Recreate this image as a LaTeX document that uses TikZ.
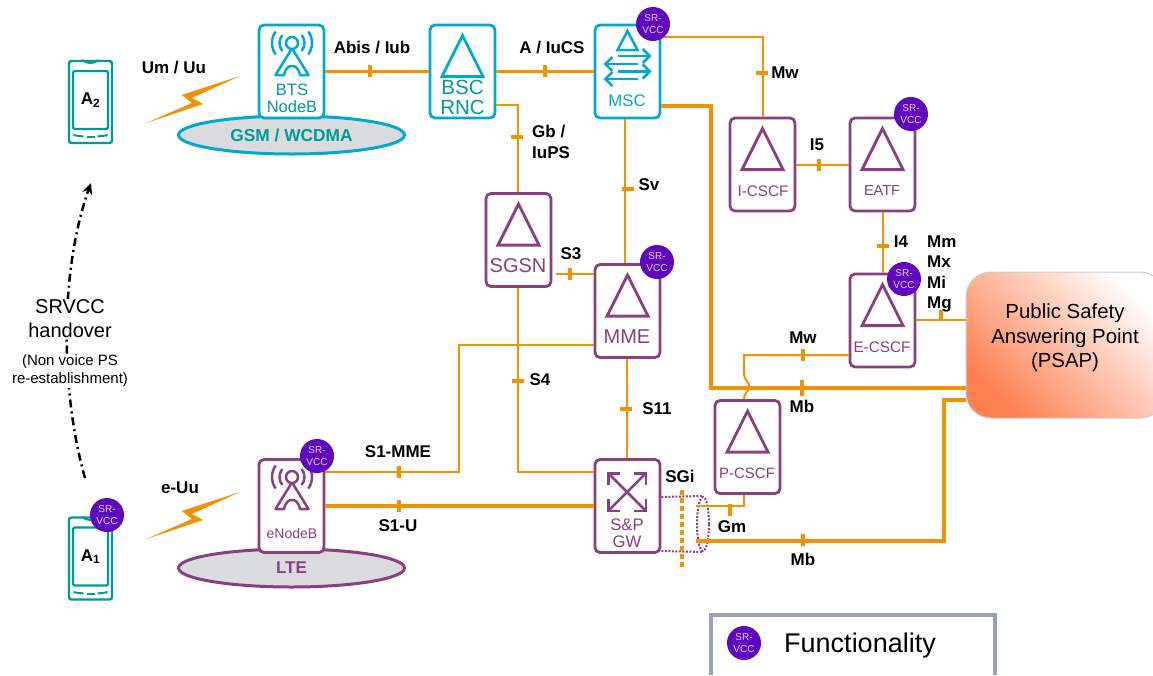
\documentclass[tikz,border=0pt]{standalone}
\usepackage{fontspec}
\setmainfont{Liberation Sans}
\usepackage[HTML]{xcolor}
\usetikzlibrary{positioning, arrows.meta, shapes.geometric}
\definecolor{netblue}{HTML}{00A9CE}
\definecolor{netteal}{HTML}{009A9A}
\definecolor{netpurple}{HTML}{8A3F82}
\definecolor{linkorange}{HTML}{F39200}
\definecolor{badgeviolet}{HTML}{5F06BE}
\definecolor{badgetext}{HTML}{DCCBF5}
\definecolor{legendgrey}{HTML}{98A2BC}
\definecolor{psapcoral}{HTML}{FF8050}
\definecolor{cellgrey}{HTML}{D9DBDC}
\newcommand{\fs}[1]{\fontsize{#1}{#1}\selectfont}
\tikzset{
  netbox/.style={draw=#1, line width=2.8pt, rounded corners=5pt, fill=white, minimum width=65pt, minimum height=93pt, inner sep=0pt},
  netname/.style={text=netpurple, inner sep=0pt, align=center},
  ifname/.style={font=\fs{17}\bfseries, inner sep=0pt, align=left},
  thinlink/.style={draw=linkorange, line width=2pt},
  thicklink/.style={draw=linkorange, line width=3.5pt},
  vtick/.style={fill=linkorange, inner sep=0pt, minimum width=3.5pt, minimum height=12pt},
  htick/.style={fill=linkorange, inner sep=0pt, minimum width=12pt, minimum height=3.5pt},
  srvcc/.style={circle, fill=badgeviolet, text=badgetext, minimum size=34pt, inner sep=0pt, align=center, font=\fontsize{10}{12}\selectfont},
  cell/.style={ellipse, line width=3pt, draw=#1, fill=cellgrey, minimum width=226pt, minimum height=38pt, inner sep=0pt},
  phonebody/.style={draw=netteal, line width=2.4pt, rounded corners=2.5pt, minimum width=43pt, minimum height=82pt, inner sep=0pt},
  phonescreen/.style={draw=netteal, line width=2.4pt, rounded corners=1.5pt, minimum width=35pt, minimum height=58pt, inner sep=0pt, font=\fs{17}\bfseries},
  tube/.style={draw=netpurple, line width=2pt, dash pattern=on 2pt off 1.5pt},
  tri/.pic={\draw[line width=2.8pt, line join=miter] (0,0) -- (-20.5,41) -- (20.5,41) -- cycle;},
  bolt/.pic={\fill[linkorange] (0,0) -- (-48,22) -- (-37,28) -- (-95,47.5) -- (-48,27) -- (-58.5,19) -- cycle;},
  antenna/.pic={
    \draw[line width=2.5pt] (0,0) circle (6);
    \draw[line width=2.5pt] (140:12.5) arc[start angle=140, end angle=220, radius=12.5];
    \draw[line width=2.5pt] (40:12.5) arc[start angle=40, end angle=-40, radius=12.5];
    \draw[line width=2.5pt] (145:20) arc[start angle=145, end angle=215, radius=20];
    \draw[line width=2.5pt] (35:20) arc[start angle=35, end angle=-35, radius=20];
    \draw[line width=2.5pt, line join=round] (-1,7) -- (-16.5,32) -- (-8,32) .. controls (-6,24) and (-3,23) .. (0,23) .. controls (3,23) and (6,24) .. (8,32) -- (16.5,32) -- (1,7);
  },
  phonemarks/.pic={
    \draw[netteal, line width=2pt] (-8,0) .. controls (-4,4) and (4,4) .. (8,0);
    \draw[netteal, line width=2pt] (-17,75) .. controls (-14,76) and (-10,76) .. (-7,76.5);
    \draw[netteal, line width=2pt] (-4,77) -- (4,77);
    \draw[netteal, line width=2pt] (7,76.5) .. controls (10,76) and (14,76) .. (17,75);
  },
  mscarrows/.pic={
    \draw[netblue, line width=2.5pt, -{Straight Barb[length=7pt, width=14pt]}] (-10,-15.5) -- (24,-15.5);
    \draw[netblue, line width=2.5pt, -{Straight Barb[length=7pt, width=14pt]}] (10,-7.5) -- (-24,-7.5);
    \draw[netblue, line width=2.5pt, -{Straight Barb[length=7pt, width=14pt]}] (-10,0) -- (24,0);
    \draw[netblue, line width=2.5pt, -{Straight Barb[length=7pt, width=14pt]}] (10,7.5) -- (-24,7.5);
  },
  gwarrows/.pic={
    \draw[netpurple, line width=2.5pt, {Straight Barb[length=8pt, width=16pt]}-{Straight Barb[length=8pt, width=16pt]}] (-20,-20) -- (20,20);
    \draw[netpurple, line width=2.5pt, {Straight Barb[length=8pt, width=16pt]}-{Straight Barb[length=8pt, width=16pt]}] (-20,20) -- (20,-20);
  }
}

\begin{document}
\begin{tikzpicture}[x=1pt, y=-1pt]
\useasboundingbox (0,0) rectangle (1153,675);
\clip (0,0) rectangle (1153,675);

\node[cell=netblue, text=netteal, font=\fs{17.3}\bfseries] (GSM) at (291.5,135) {GSM / WCDMA};
\node[cell=netpurple, text=netpurple, font=\fs{17}\bfseries] (LTE) at (291.5,568) {LTE};

\node[netbox=netblue] (BTS) at (291.5,71.5) {};
\node[netbox=netblue] (BSC) at (462.5,71.5) {};
\node[netbox=netblue] (MSC) at (627.5,71.5) {};
\node[netbox=netpurple] (ICSCF) at (762.5,164.5) {};
\node[netbox=netpurple] (EATF) at (882.5,164.5) {};
\node[netbox=netpurple] (ECSCF) at (882.5,320.5) {};
\node[netbox=netpurple] (SGSN) at (518.5,240) {};
\node[netbox=netpurple] (MME) at (627.5,311) {};
\node[netbox=netpurple] (PCSCF) at (747.5,447) {};
\node[netbox=netpurple] (SGW) at (627.5,506) {};
\node[netbox=netpurple] (eNB) at (291.5,506) {};
\node[shade, shading=axis, left color=psapcoral, middle color=psapcoral!40!white, right color=white, shading angle=135, draw=black!20, line width=1pt, rounded corners=25pt, minimum width=199pt, minimum height=146pt] (PSAP) at (1065.5,345) {};
\node[ellipse, tube, minimum width=12pt, minimum height=54pt, inner sep=0pt] (tubeEnd) at (703,524) {};

\pic[color=netblue] at ([yshift=-12pt]BSC.north) {tri};
\pic[color=netpurple] at ([yshift=-12pt]ICSCF.north) {tri};
\pic[color=netpurple] at ([yshift=-12pt]EATF.north) {tri};
\pic[color=netpurple] at ([yshift=-12pt]ECSCF.north) {tri};
\pic[color=netpurple] at ([yshift=-12pt]SGSN.north) {tri};
\pic[color=netpurple] at ([yshift=-12pt]MME.north) {tri};
\pic[color=netpurple] at ([yshift=-12pt]PCSCF.north) {tri};
\draw[netblue, line width=2.5pt] (627.5,31) -- (617.5,50) -- (637.5,50) -- cycle;
\pic at (MSC.center) {mscarrows};
\pic at (627,492) {gwarrows};
\pic[color=netblue] at (292,43) {antenna};
\pic[color=netpurple] at (292,477) {antenna};

\node[text=netteal, font=\fontsize{16.5}{17}\selectfont, inner sep=0pt, align=center] (BTSname) at (292,98.5) {BTS\\NodeB};
\node[text=netteal, font=\fontsize{20.5}{20}\selectfont, inner sep=0pt, align=center] (BSCname) at (462.5,97) {BSC\\RNC};
\node[text=netblue, font=\fs{16.7}, inner sep=0pt] (MSCname) at (627,101) {MSC};
\node[netname, font=\fs{15.3}] (ICSCFname) at (763,191) {I-CSCF};
\node[netname, font=\fs{14.5}] (EATFname) at (882,191) {EATF};
\node[netname, font=\fs{15.3}] (ECSCFname) at (882,347) {E-CSCF};
\node[netname, font=\fs{20}] (SGSNname) at (518,266) {SGSN};
\node[netname, font=\fs{20}] (MMEname) at (627,337) {MME};
\node[netname, font=\fs{15}] (PCSCFname) at (747,473) {P-CSCF};
\node[netname, font=\fontsize{16.7}{17}\selectfont] (SGWname) at (627,533) {S\&P\\GW};
\node[netname, font=\fs{14}] (eNBname) at (292,533) {eNodeB};
\node[inner sep=0pt, align=center, font=\fontsize{20.4}{24.5}\selectfont] (PSAPname) at (1065,338) {Public Safety\\Answering Point\\(PSAP)};

\node[phonebody] (A2body) at (90.5,102) {};
\node[phonescreen] (A2) at (90.5,100) {A\textsubscript{2}};
\pic at (90.5,60) {phonemarks};
\node[phonebody] (A1body) at (90.5,558.5) {};
\node[phonescreen] (A1) at (90.5,556.5) {A\textsubscript{1}};
\pic at (90.5,517) {phonemarks};

\pic at (240,76) {bolt};
\pic at (240,492) {bolt};

\draw[thicklink] (BTS) -- (BSC);
\draw[thicklink] (BSC) -- (MSC);
\draw[thicklink] (eNB) -- (SGW);
\draw[thinlink] (MSC.east |- 0,37) -- (762.5,37) -- (ICSCF.north);
\draw[thinlink] (BSC.east |- 0,105) -- (518,105) -- (518,0 |- SGSN.north);
\draw[thinlink] (625,0 |- MSC.south) -- (625,0 |- MME.north);
\draw[thinlink, shorten <=4pt] (SGSN.east |- 0,274) -- (MME.west |- 0,274);
\draw[thinlink] (518,0 |- SGSN.south) -- (518,472) -- (SGW.west |- 0,472);
\draw[thinlink] (MME.west |- 0,345) -- (459,345) -- (459,472) -- (eNB.east |- 0,472);
\draw[thinlink] (627,0 |- MME.south) -- (627,0 |- SGW.north);
\draw[thinlink] (ICSCF) -- (EATF);
\draw[thinlink] (EATF) -- (ECSCF);
\draw[thinlink] (ECSCF.east |- 0,320) -- (PSAP.west |- 0,320);
\draw[thicklink] (MSC.east |- 0,106) -- (711,106) -- (711,388) -- (PSAP.west |- 0,388);
\draw[thicklink] (tubeEnd.west |- 0,541) -- (944,541) -- (944,400) -- (PSAP.west |- 0,400);
\draw[thinlink] (ECSCF.west |- 0,355) -- (744,355) -- (744,374) .. controls (745,382) and (750,382) .. (749,388) .. controls (748,392) and (744,393) .. (744,0 |- PCSCF.north);
\draw[thinlink] (744,0 |- PCSCF.south) -- (744,506) -- (tubeEnd.west |- 0,506);

\draw[tube] (SGW.east |- 0,497) -- (tubeEnd.north);
\draw[tube] (SGW.east |- 0,551) -- (tubeEnd.south);
\node[rectangle, minimum width=4.5pt, minimum height=0pt, inner sep=0pt] (SGiTop) at (682,490) {};
\node[rectangle, minimum width=4.5pt, minimum height=0pt, inner sep=0pt] (SGiBottom) at (682,570) {};
\draw[linkorange, line width=4.5pt, dash pattern=on 4.5pt off 3.5pt] (SGiTop) -- (SGiBottom);

\node[vtick] (tickAbis) at (370,71) {};
\node[vtick] (tickA) at (545,71) {};
\node[htick] (tickGb) at (517,137) {};
\node[htick] (tickSv) at (627.5,189) {};
\node[htick] (tickMw) at (762,73) {};
\node[vtick] (tickIfive) at (819,164.5) {};
\node[htick] (tickIfour) at (883,246) {};
\node[vtick] (tickSthree) at (570,274) {};
\node[htick] (tickSfour) at (518,381) {};
\node[htick] (tickSeleven) at (626,409) {};
\node[vtick] (tickMME) at (399,472) {};
\node[vtick] (tickU) at (399,506) {};
\node[vtick] (tickMwlow) at (803,355) {};
\node[vtick, minimum height=11pt] (tickMm) at (941,315) {};
\node[vtick, minimum height=16pt] (tickMb) at (802,388) {};
\node[vtick] (tickGm) at (730,510) {};
\node[vtick] (tickMblow) at (803,540) {};

\node[ifname] (Um) at (174,68) {Um / Uu};
\node[ifname] (Abis) at (372,48) {Abis / Iub};
\node[ifname] (Acs) at (552,48) {A / IuCS};
\node[ifname, font=\fontsize{17}{20.5}\selectfont\bfseries, anchor=west] (Gb) at (532,142) {Gb /\\IuPS};
\node[ifname] (Sv) at (649,185) {Sv};
\node[ifname] (Mwtop) at (785,73) {Mw};
\node[ifname] (Ifive) at (817,145) {I5};
\node[ifname] (Ifour) at (901,242) {I4};
\node[ifname, font=\fontsize{17}{20.5}\selectfont\bfseries, anchor=west] (Mm) at (927,274) {Mm\\Mx\\Mi\\Mg};
\node[ifname] (Mwlow) at (803,338) {Mw};
\node[ifname] (Mb) at (802,406) {Mb};
\node[ifname] (Sthree) at (571,254) {S3};
\node[ifname] (Sfour) at (540,380) {S4};
\node[ifname] (Seleven) at (657,409) {S11};
\node[ifname] (SGi) at (680,476) {SGi};
\node[ifname] (Gm) at (732,527) {Gm};
\node[ifname] (Mblow) at (803,559) {Mb};
\node[ifname] (SoneMME) at (398,452) {S1-MME};
\node[ifname] (SoneU) at (398,526) {S1-U};
\node[ifname] (eUu) at (180,488) {e-Uu};

\coordinate (hoStart) at (85,478);
\coordinate (hoEnd) at (91,183);
\draw[line width=2.5pt, dash pattern=on 8pt off 4pt on 2pt off 4pt, -{Stealth[length=11pt, width=10pt]}] (hoStart) .. controls (60,390) and (60,270) .. (hoEnd);
\node[fill=white, inner sep=1pt, align=center, font=\fontsize{20}{24}\selectfont] (hoLabel) at (70,319) {SRVCC\\handover};
\node[fill=white, inner sep=1pt, align=center, font=\fontsize{15}{18}\selectfont] (hoNote) at (70,371) {(Non voice PS\\re-establishment)};

\node[srvcc] (srMSC) at (653,24) {SR-\\VCC};
\node[srvcc] (srEATF) at (911,114) {SR-\\VCC};
\node[srvcc] (srECSCF) at (904,279) {SR-\\VCC};
\node[srvcc] (srMME) at (657,262) {SR-\\VCC};
\node[srvcc] (srENB) at (317,456) {SR-\\VCC};
\node[srvcc] (srAone) at (107,515) {SR-\\VCC};

\node[srvcc] (srLegend) at (744,643) {SR-\\VCC};
\node[font=\fs{27}, inner sep=0pt] (legendText) at (860,646) {Functionality};
\draw[legendgrey, line width=4pt] (711,675) -- (711,615) -- (995,615) -- (995,675);
\end{tikzpicture}
\end{document}
